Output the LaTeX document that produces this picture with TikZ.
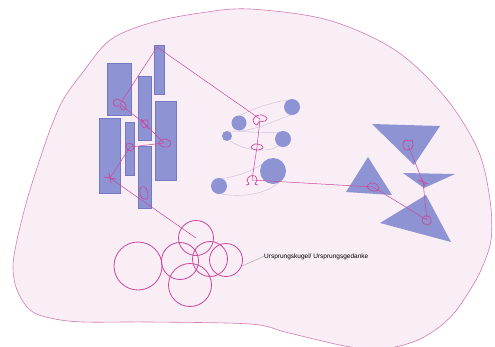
\documentclass[tikz,border=0pt]{standalone}
\usepackage{fontspec}
\setmainfont{Liberation Sans}
\definecolor{blobfill}{HTML}{F9EDF6}
\definecolor{blobline}{HTML}{D37CB2}
\definecolor{shapefill}{HTML}{8E94D3}
\definecolor{shapeline}{HTML}{7379C2}
\definecolor{pinkline}{HTML}{CC479C}
\definecolor{trail}{HTML}{C9C1D9}
\tikzset{
  blob/.style={fill=blobfill, draw=blobline, line width=0.6pt},
  bar/.style={fill=shapefill, draw=shapeline, line width=0.6pt, inner sep=0pt, anchor=north west},
  dot/.style={circle, fill=shapefill, draw=none, inner sep=0pt},
  tri/.style={fill=shapefill, draw=none},
  link/.style={draw=pinkline, line width=0.5pt},
  ring/.style={circle, draw=pinkline, line width=0.8pt, inner sep=0pt},
  squig/.style={draw=pinkline, line width=0.7pt},
  trailline/.style={draw=trail, line width=0.4pt},
  lead/.style={draw=gray!70, line width=0.4pt},
}
\begin{document}
\begin{tikzpicture}[x=1pt, y=-1pt]
\useasboundingbox (0,0) rectangle (495,346);
% outer blob
\path[blob] plot[smooth cycle, tension=0.55] coordinates {
 (200,13) (250,9) (328,20) (395,50) (445,97) (478,150) (490,200) (491,240)
 (481,270) (470,290) (455,312) (438,328) (418,340) (395,347) (370,349)
 (345,346) (318,340) (285,332) (250,324)
 (150,322) (83,322) (50,318) (30,310) (17,290) (13,267) (17,240) (27,200)
 (38,165) (50,130) (63,100) (83,72) (110,40) (150,23)};

% rectangles
\node[bar, minimum width=24pt, minimum height=52pt] (r1) at (107,63) {};
\node[bar, minimum width=10pt, minimum height=49pt] (r2) at (154,45) {};
\node[bar, minimum width=13pt, minimum height=64pt] (r3) at (138,76) {};
\node[bar, minimum width=21pt, minimum height=79pt] (r4) at (155,101) {};
\node[bar, minimum width=21pt, minimum height=75pt] (r5) at (99,118) {};
\node[bar, minimum width=9pt, minimum height=53pt] (r6) at (125,122) {};
\node[bar, minimum width=13pt, minimum height=62pt] (r7) at (138,146) {};

% faint trails in the middle group
\draw[trailline] (239,116) .. controls (255,108) and (272,102) .. (288,100);
\draw[trailline] (241,131) .. controls (262,128) and (276,120) .. (291,115);
\draw[trailline] (228,131) .. controls (245,131) and (265,134) .. (280,132);
\draw[trailline] (230,141) .. controls (246,151) and (266,153) .. (279,146);
\draw[trailline] (220,179) .. controls (240,176) and (255,170) .. (266,161);
\draw[trailline] (221,194) .. controls (245,198) and (268,193) .. (279,182);

% circles of the middle group
\node[dot, minimum size=16pt] (c1) at (292,107) {};
\node[dot, minimum size=15pt] (c2) at (239,123) {};
\node[dot, minimum size=10pt] (c3) at (227,136) {};
\node[dot, minimum size=16pt] (c4) at (283,139) {};
\node[dot, minimum size=26pt] (c5) at (273,171) {};
\node[dot, minimum size=16pt] (c6) at (219,186) {};

% triangles
\path[tri] (372,124) -- (440,126) -- (414,165) -- cycle;
\path[tri] (368,157) -- (346,192) -- (392,195) -- cycle;
\path[tri] (403,173) -- (455,174) -- (424,188) -- cycle;
\path[tri] (426,195) -- (380,223) -- (451,242) -- cycle;

% anchor points of the pink chains
\coordinate (p2) at (157,47);
\coordinate (s1) at (120,104);
\coordinate (s2) at (145,124);
\coordinate (s3) at (164,143);
\coordinate (s4) at (130,147);
\coordinate (s5) at (110,178);
\coordinate (s6) at (144,193);
\coordinate (s7) at (260,119);
\coordinate (s8) at (257,147);
\coordinate (s9) at (252,180);
\coordinate (s10) at (373,187);
\coordinate (s11) at (408,145);
\coordinate (s12) at (423,182);
\coordinate (s13) at (427,220);

% circles cluster (Ursprungskugel)
\node[ring, minimum size=48pt] (k1) at (138,266) {};
\node[ring, minimum size=35pt] (k2) at (196,238) {};
\node[ring, minimum size=37pt] (k3) at (180,261) {};
\node[ring, minimum size=35pt] (k4) at (210,259) {};
\node[ring, minimum size=33pt] (k5) at (226,260) {};
\node[ring, minimum size=43pt] (k6) at (190,285) {};

% pink connecting lines
\draw[link] (p2) -- (s1);
\draw[link] (p2) -- (s7);
\draw[link] (s1) -- (s2) -- (s3);
\draw[link] (s4) -- (s3);
\draw[link] (s4) -- (s5);
\draw[link] (s5) -- (k2.center);
\draw[link] (s7) -- (s8) -- (s9);
\draw[link] (s9) -- (s10);
\draw[link] (s10) -- (s13) -- (s12) -- (s11);

% squiggles
\draw[squig, shift={(s1)}] plot[smooth cycle] coordinates {(-7,-2) (-3,-5) (1,-3) (5,-1) (6,4) (2,6) (0,2) (-5,2)};
\draw[squig, shift={(s2)}] plot[smooth cycle] coordinates {(-3,-3) (2,-4) (3,1) (-1,4) (-4,0)};
\draw[squig, shift={(s2)}] (-4,-5) -- (4,5);
\draw[squig, shift={(s3)}] plot[smooth cycle] coordinates {(-5,-1) (0,-4) (6,-2) (6,3) (0,4) (-4,2)};
\draw[squig, shift={(s4)}] plot[smooth cycle] coordinates {(-3,-3) (2,-3) (4,1) (1,4) (-3,2)};
\draw[squig, shift={(s5)}] (-6,-1) -- (6,1) (-1,-5) -- (1,5);
\draw[squig, shift={(s6)}] plot[smooth cycle] coordinates {(-3,-6) (2,-5) (4,2) (3,6) (-2,5) (-4,0)};
\draw[squig, shift={(s7)}] plot[smooth cycle] coordinates {(-7,1) (-4,-3) (2,-4) (7,-1) (5,2) (-1,3) (-3,6) (-6,4)};
\draw[squig, shift={(s8)}] plot[smooth cycle] coordinates {(-6,0) (-2,-3) (4,-2) (6,1) (1,3) (-4,2)};
\draw[squig, shift={(s9)}] plot[smooth] coordinates {(-6,5) (-3,4) (-5,0) (-2,-4) (3,-4) (5,0) (3,4) (6,5)};
\draw[squig, shift={(s10)}] plot[smooth cycle] coordinates {(-6,-1) (-2,-4) (3,-3) (6,1) (3,4) (-3,3)};
\draw[squig, shift={(s11)}] plot[smooth cycle] coordinates {(-5,-1) (-3,-5) (1,-4) (4,-5) (5,0) (3,4) (-2,5) (-5,2)};
\draw[squig, shift={(s12)}] (-5,-2) -- (5,2) (-2,-4) -- (2,4);
\draw[squig, shift={(s13)}] plot[smooth cycle] coordinates {(-5,0) (-2,-4) (3,-3) (4,2) (1,5) (-4,3)};

% label
\node[anchor=base west, inner sep=0pt, font=\fontsize{6.5}{7}\selectfont] (lab) at (264,258) {Ursprungskugel/ Ursprungsgedanke};
\draw[lead] (242,266) -- (lab.west);
\end{tikzpicture}
\end{document}
